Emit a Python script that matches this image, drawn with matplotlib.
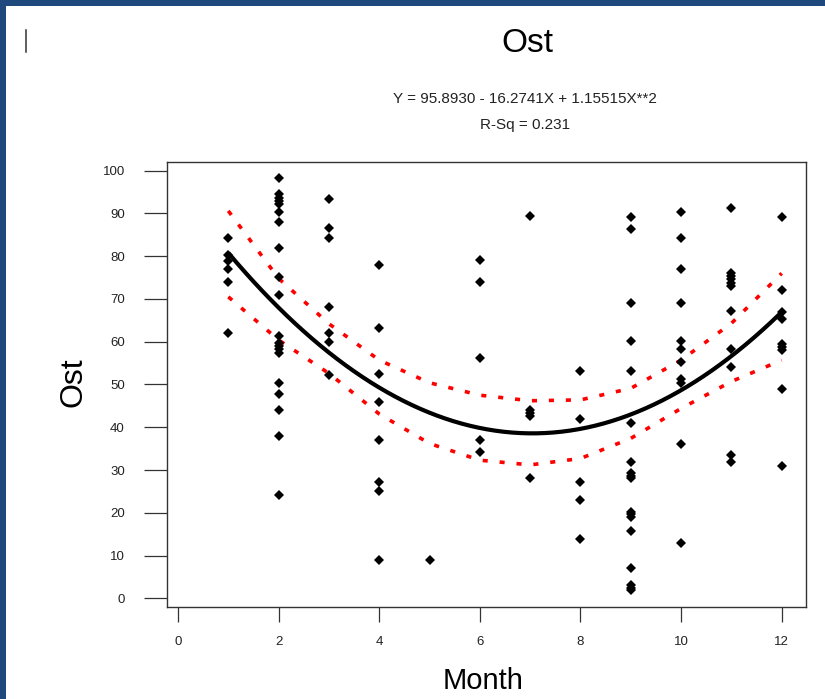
import numpy as np
import matplotlib
matplotlib.use("Agg")
import matplotlib.pyplot as plt
from matplotlib.lines import Line2D
from matplotlib.patches import Rectangle

# ____Data________________________
month_1 = [84.3, 80.3, 78.9, 76.9, 74.0, 62.1]
month_2 = [98.2, 94.5, 93.7, 93.0, 92.2, 90.3, 88.1, 81.9, 75.1, 71.0,
           61.3, 59.8, 59.0, 58.2, 57.3, 50.4, 47.7, 44.0, 38.0, 24.2]
month_3 = [93.3, 86.5, 84.3, 68.1, 62.1, 60.0, 52.2]
month_4 = [77.9, 63.1, 52.4, 45.8, 37.0, 27.1, 25.1, 9.0]
month_5 = [9.0]
month_6 = [79.0, 74.0, 56.3, 37.0, 34.1]
month_7 = [89.4, 44.0, 43.3, 42.6, 28.1]
month_8 = [53.2, 41.9, 27.2, 23.1, 13.9]
month_9 = [89.2, 86.3, 69.0, 60.2, 53.2, 40.9, 31.9, 29.2, 28.6, 28.1,
           20.3, 19.7, 19.1, 15.8, 7.0, 3.1, 2.5, 1.9]
month_10 = [90.3, 84.3, 77.0, 69.0, 60.2, 58.2, 55.2, 51.2, 50.4, 36.0, 12.9]
month_11 = [91.3, 76.1, 75.4, 74.6, 73.8, 73.0, 67.2, 58.2, 54.2, 33.5, 31.9]
month_12 = [89.2, 72.1, 67.0, 65.3, 59.4, 58.7, 58.1, 48.9, 31.0]

# fitted quadratic (from the chart text), highest power first
fit_coef = [1.15515, -16.2741, 95.8930]

# dotted confidence band, read at each month
band_month = [1, 2, 3, 4, 5, 6, 7, 8, 9, 10, 11, 12]
band_upper = [90.6, 74.8, 64.2, 55.7, 50.4, 47.5, 46.2, 46.4, 49.1, 55.7, 64.3, 76.0]
band_lower = [70.5, 60.4, 52.6, 43.1, 36.2, 32.3, 31.2, 32.7, 37.4, 44.4, 50.7, 55.7]

y_ticks = list(range(0, 101, 10))
x_ticks = [0, 2, 4, 6, 8, 10, 12]

groups = [month_1, month_2, month_3, month_4, month_5, month_6,
          month_7, month_8, month_9, month_10, month_11, month_12]
x_pts = np.concatenate([[i + 1] * len(g) for i, g in enumerate(groups)])
y_pts = np.concatenate(groups)

plt.rcParams['font.family'] = ['Liberation Sans', 'DejaVu Sans']

W, H = 825, 699
fig = plt.figure(figsize=(W / 100, H / 100), dpi=100)
fig.patch.set_facecolor('white')


def fx(px):
    return px / W


def fy(py):
    return 1 - py / H


# blue window frame (top and left)
blue = '#1f497d'
fig.add_artist(Rectangle((0, fy(6)), 1, 6 / H, transform=fig.transFigure,
                         color=blue, lw=0))
fig.add_artist(Rectangle((0, 0), 6 / W, 1, transform=fig.transFigure,
                         color=blue, lw=0))
# text cursor
fig.add_artist(Line2D([fx(25.5), fx(25.5)], [fy(30), fy(52)],
                      transform=fig.transFigure, color='#333333', lw=1.1))

ax = fig.add_axes([fx(167), fy(606.7), fx(805.5) - fx(167), fy(162) - fy(606.7)])

# fit line and band
xs = np.linspace(1, 12, 200)
ax.plot(xs, np.polyval(fit_coef, xs), color='black', lw=3.0, zorder=3,
        solid_capstyle='butt')
ax.plot(band_month, band_upper, color='red', lw=2.6, ls=(0, (1.4, 3.3)), zorder=2)
ax.plot(band_month, band_lower, color='red', lw=2.6, ls=(0, (1.4, 3.3)), zorder=2)

# points
ax.plot(x_pts, y_pts, ls='none', marker='D', ms=4.8, mew=0,
        color='black', zorder=4)

ax.set_xlim(-0.219, 12.473)
ax.set_ylim(-1.96, 102.03)
ax.set_xticks(x_ticks)
ax.set_yticks(y_ticks)

for sp in ax.spines.values():
    sp.set_color('#333333')
    sp.set_linewidth(1.0)

ax.tick_params(axis='y', direction='out', length=16.6, width=0.9,
               color='#333333', pad=13.7, labelsize=9.5, labelcolor='#222222')
ax.tick_params(axis='x', direction='out', length=10.8, width=0.9,
               color='#333333', pad=10, labelsize=9.5, labelcolor='#222222')

# titles and labels
fig.text(fx(527), fy(52), 'Ost', ha='center', va='baseline', fontsize=24)
fig.text(fx(525), fy(103), 'Y = 95.8930 - 16.2741X + 1.15515X**2',
         ha='center', va='baseline', fontsize=11, color='#222222')
fig.text(fx(525), fy(129), 'R-Sq = 0.231', ha='center', va='baseline',
         fontsize=11, color='#222222')
fig.text(fx(81.7), fy(382.5), 'Ost', ha='center', va='baseline',
         rotation=90, rotation_mode='anchor', fontsize=23)
fig.text(fx(483), fy(689), 'Month', ha='center', va='baseline', fontsize=21)

fig.savefig('out.png', dpi=100)
plt.close(fig)
